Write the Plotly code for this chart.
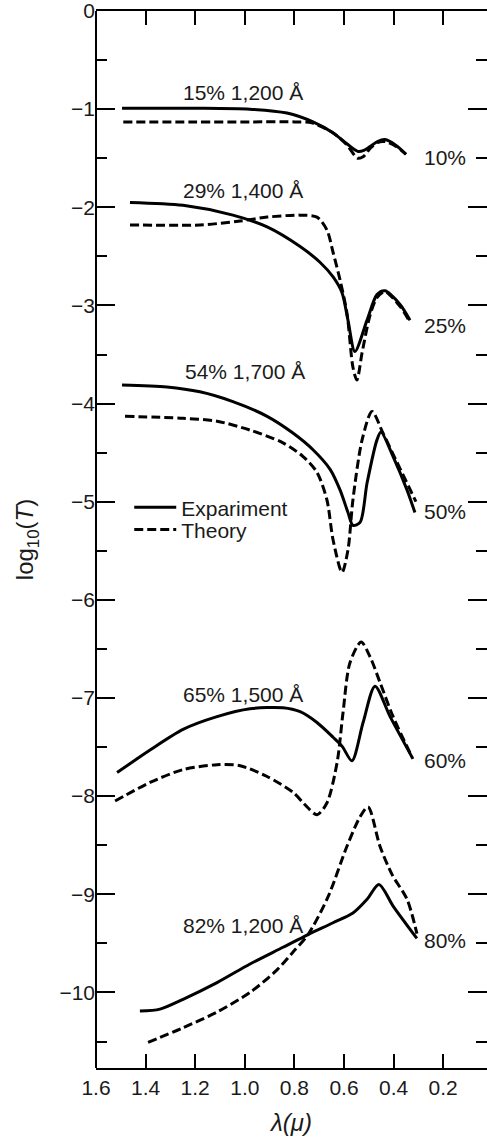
import plotly.graph_objects as go

# ---- data ----
x15_exp = [1.495, 1.2, 0.98, 0.83, 0.725, 0.645, 0.59, 0.545, 0.52, 0.495, 0.465, 0.435, 0.39, 0.35]
y15_exp = [-0.99, -0.99, -1.00, -1.04, -1.13, -1.24, -1.35, -1.43, -1.42, -1.38, -1.33, -1.31, -1.37, -1.46]
x15_th = [1.49, 1.2, 0.98, 0.80, 0.73, 0.645, 0.59, 0.545, 0.52, 0.495, 0.465, 0.435, 0.39, 0.35]
y15_th = [-1.13, -1.13, -1.13, -1.13, -1.14, -1.24, -1.36, -1.50, -1.48, -1.40, -1.34, -1.33, -1.38, -1.46]

x29_exp = [1.463, 1.249, 1.048, 0.910, 0.777, 0.697, 0.644, 0.608, 0.584, 0.556, 0.507, 0.467, 0.435, 0.374, 0.334]
y29_exp = [-1.95, -1.98, -2.08, -2.20, -2.40, -2.56, -2.71, -2.87, -3.15, -3.47, -3.15, -2.89, -2.85, -2.99, -3.15]
x29_th = [1.463, 1.181, 1.019, 0.910, 0.777, 0.709, 0.669, 0.644, 0.616, 0.588, 0.564, 0.548, 0.527, 0.495, 0.467, 0.435, 0.374, 0.334]
y29_th = [-2.18, -2.18, -2.14, -2.10, -2.08, -2.10, -2.23, -2.46, -2.74, -3.08, -3.63, -3.76, -3.48, -3.10, -2.92, -2.86, -3.01, -3.17]

x54_exp = [1.495, 1.314, 1.181, 1.048, 0.910, 0.806, 0.725, 0.656, 0.616, 0.584, 0.564, 0.535, 0.507, 0.467, 0.451, 0.402, 0.346, 0.314]
y54_exp = [-3.81, -3.83, -3.88, -3.98, -4.13, -4.30, -4.47, -4.67, -4.88, -5.11, -5.24, -5.21, -4.81, -4.37, -4.29, -4.54, -4.88, -5.11]
x54_th = [1.483, 1.249, 1.112, 0.979, 0.846, 0.765, 0.709, 0.669, 0.644, 0.608, 0.584, 0.564, 0.527, 0.487, 0.443, 0.386, 0.310]
y54_th = [-4.13, -4.15, -4.18, -4.27, -4.40, -4.54, -4.70, -4.98, -5.39, -5.72, -5.49, -4.98, -4.37, -4.08, -4.30, -4.60, -5.00]

x65_exp = [1.515, 1.382, 1.249, 1.112, 0.979, 0.846, 0.777, 0.709, 0.644, 0.608, 0.568, 0.523, 0.475, 0.414, 0.322]
y65_exp = [-7.76, -7.53, -7.32, -7.19, -7.11, -7.10, -7.14, -7.25, -7.40, -7.49, -7.64, -7.25, -6.88, -7.19, -7.62]
x65_th = [1.523, 1.382, 1.249, 1.112, 1.019, 0.910, 0.806, 0.749, 0.709, 0.669, 0.628, 0.604, 0.576, 0.531, 0.495, 0.455, 0.402, 0.326]
y65_th = [-8.05, -7.86, -7.73, -7.68, -7.69, -7.80, -7.96, -8.11, -8.19, -8.07, -7.66, -7.15, -6.64, -6.43, -6.58, -6.84, -7.19, -7.60]

x82_exp = [1.423, 1.342, 1.249, 1.112, 0.979, 0.846, 0.745, 0.644, 0.564, 0.507, 0.459, 0.402, 0.306]
y82_exp = [-10.19, -10.17, -10.07, -9.90, -9.71, -9.54, -9.41, -9.29, -9.19, -9.05, -8.90, -9.12, -9.45]
x82_th = [1.390, 1.249, 1.112, 0.979, 0.870, 0.806, 0.745, 0.665, 0.588, 0.535, 0.503, 0.455, 0.406, 0.346, 0.306]
y82_th = [-10.51, -10.36, -10.20, -10.00, -9.77, -9.59, -9.41, -9.03, -8.51, -8.21, -8.11, -8.51, -8.80, -9.05, -9.40]

left_labels = ["15% 1,200 Å", "29% 1,400 Å", "54% 1,700 Å", "65% 1,500 Å", "82% 1,200 Å"]
left_label_x = [1.007, 1.007, 1.0, 1.007, 1.007]
left_label_y = [-0.83, -1.83, -3.67, -6.96, -9.32]
right_labels = ["10%", "25%", "50%", "60%", "80%"]
right_label_x = [0.287, 0.287, 0.287, 0.285, 0.285]
right_label_y = [-1.49, -3.20, -5.10, -7.64, -9.47]

x_ticks = [1.6, 1.4, 1.2, 1.0, 0.8, 0.6, 0.4, 0.2]
x_ticktext = ["1.6", "1.4", "1.2", "1.0", "0.8", "0.6", "0.4", "0.2"]
y_ticks = [0, -1, -2, -3, -4, -5, -6, -7, -8, -9, -10]

FONT = "Liberation Sans, Arial, Helvetica, sans-serif"
TXT = "#1a1a1a"
FS = 21

exp_series = [(x15_exp, y15_exp), (x29_exp, y29_exp), (x54_exp, y54_exp), (x65_exp, y65_exp), (x82_exp, y82_exp)]
th_series = [(x15_th, y15_th), (x29_th, y29_th), (x54_th, y54_th), (x65_th, y65_th), (x82_th, y82_th)]

fig = go.Figure()
for i, (xs, ys) in enumerate(exp_series):
    fig.add_trace(go.Scatter(
        x=xs, y=ys, mode="lines", name="Expariment", legendgroup="exp", legend="legend",
        showlegend=(i == 0),
        line=dict(color="black", width=3, shape="spline", smoothing=0.8)))
for i, (xs, ys) in enumerate(th_series):
    fig.add_trace(go.Scatter(
        x=xs, y=ys, mode="lines", name="Theory", legendgroup="th", legend="legend2",
        showlegend=(i == 0),
        line=dict(color="black", width=3, dash="9px,4px", shape="spline", smoothing=0.8)))

for t, x, y in zip(left_labels, left_label_x, left_label_y):
    fig.add_annotation(x=x, y=y, text=t, showarrow=False, xanchor="center", yanchor="middle",
                       font=dict(family=FONT, size=FS, color=TXT))
for t, x, y in zip(right_labels, right_label_x, right_label_y):
    fig.add_annotation(x=x, y=y, text=t, showarrow=False, xanchor="left", yanchor="middle",
                       font=dict(family=FONT, size=FS, color=TXT))

# left axis line (the right frame lies outside the picture)
fig.add_shape(type="line", xref="paper", yref="paper", x0=0, x1=0, y0=0, y1=1,
              line=dict(color="black", width=2))

legend_common = dict(xanchor="left", yanchor="top", bgcolor="rgba(0,0,0,0)",
                     font=dict(family=FONT, size=FS, color=TXT), itemwidth=42)

fig.update_layout(
    width=487, height=1142,
    margin=dict(l=96, r=0, t=11, b=74),
    paper_bgcolor="white", plot_bgcolor="white",
    font=dict(family=FONT, size=FS, color=TXT),
    legend=dict(x=0.085, y=0.5495, **legend_common),
    legend2=dict(x=0.085, y=0.5285, **legend_common),
    xaxis=dict(
        range=[1.6, 1.6 - 391 / 248], tickmode="array", tickvals=x_ticks, ticktext=x_ticktext,
        ticks="inside", ticklen=14, tickwidth=2, tickcolor="black",
        showline=True, linecolor="black", linewidth=2, mirror="ticks",
        showgrid=False, zeroline=False,
        tickfont=dict(family=FONT, size=FS, color=TXT),
        title=dict(text="<i>λ(μ)</i>", font=dict(family=FONT, size=24, color=TXT), standoff=16),
    ),
    yaxis=dict(
        range=[-10.77, 0], tickmode="array", tickvals=y_ticks,
        ticks="inside", ticklen=19, tickwidth=2, tickcolor="black",
        minor=dict(dtick=0.5, ticks="inside", ticklen=11, tickwidth=2, tickcolor="black", showgrid=False),
        showline=False, mirror="ticks", ticklabeloverflow="allow",
        showgrid=False, zeroline=False,
        tickfont=dict(family=FONT, size=FS, color=TXT),
        title=dict(text="log<sub>10</sub>(<i>T</i>)", font=dict(family=FONT, size=24, color=TXT), standoff=18),
    ),
)

fig.write_html("out.html")
